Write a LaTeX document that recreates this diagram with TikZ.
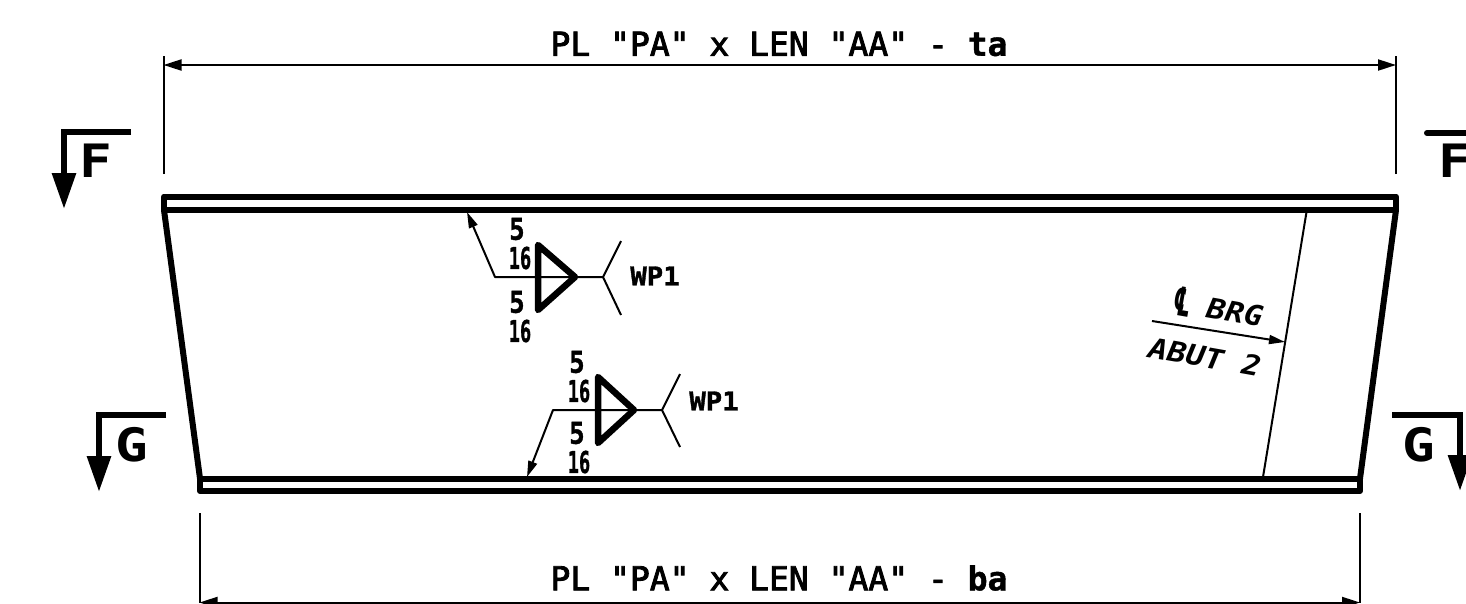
\documentclass[tikz,border=0pt]{standalone}
\usepackage{fontspec}
\setmainfont[Ligatures=TeXOff]{DejaVu Sans Mono}
\newfontfamily\dimfont[Ligatures=TeXOff,FakeBold=2.6]{DejaVu Sans Mono}
\newfontfamily\heavyfont[Ligatures=TeXOff,FakeBold=1.2,BoldFont={DejaVu Sans Mono Bold}]{DejaVu Sans Mono Bold}
\newfontfamily\symfont{DejaVu Sans Bold}
\usetikzlibrary{arrows.meta}
\tikzset{
  heavy/.style={line width=6pt,line join=round,line cap=round},
  thin line/.style={line width=2pt},
  section arrow/.style={line width=6pt,line join=miter,-{Triangle[length=36pt,width=23pt]}},
  leader/.style={line width=2pt,line join=round,-{Triangle[length=16pt,width=9pt]}},
  dimension/.style={line width=2pt,{Triangle[length=18pt,width=11pt]}-{Triangle[length=18pt,width=11pt]}},
  dimtext/.style={inner sep=0pt,font=\fontsize{33}{33}\dimfont},
  seclabel/.style={inner sep=0pt,xscale=1.18,font=\fontsize{46}{46}\selectfont\bfseries},
  fifive/.style={inner sep=0pt,xscale=.85,font=\fontsize{30}{30}\heavyfont},
  sixteen/.style={inner sep=0pt,xscale=.62,font=\fontsize{30}{30}\heavyfont},
  wp/.style={inner sep=0pt,xscale=1.05,font=\fontsize{26}{26}\heavyfont},
  brg/.style={inner sep=0pt,rotate=-10,xscale=1.12,font=\fontsize{28}{28}\selectfont\bfseries\itshape},
  clsym/.style={inner sep=0pt,rotate=-10,xscale=.62,yscale=1.25,font=\fontsize{32}{32}\symfont},
  weldtri/.style={line width=6.5pt,line join=round,line cap=round},
}
\begin{document}
\begin{tikzpicture}[x=1pt,y=-1pt]
\useasboundingbox (0,0) rectangle (1466,603);
\clip (0,0) rectangle (1466,603);
% corners
\coordinate (tl) at (164,196.5); \coordinate (tr) at (1396,196.5);
\coordinate (tl2) at (164,210); \coordinate (tr2) at (1396,210);
\coordinate (bl2) at (200,478.5); \coordinate (br2) at (1360,478.5);
\coordinate (bl) at (200,491); \coordinate (br) at (1360,491);
% girder
\draw[heavy] (tl2) -- (tl) -- (tr) -- (tr2) -- cycle;
\draw[heavy] (bl2) -- (bl) -- (br) -- (br2) -- cycle;
\draw[heavy] (tl2) -- (bl2);
\draw[heavy] (tr2) -- (br2);
% top dimension
\coordinate (dt1) at (163.5,65); \coordinate (dt2) at (1396,65);
\coordinate (et1) at (163.5,174); \coordinate (et2) at (1396,174);
\coordinate (et1t) at (163.5,56); \coordinate (et2t) at (1396,56);
\draw[thin line] (et1) -- (et1t);
\draw[thin line] (et2) -- (et2t);
\draw[dimension] (dt1) -- (dt2);
\node[dimtext] (toptext) at (779,44) {PL "PA" x LEN "AA" - {\heavyfont ta}};
% bottom dimension
\coordinate (db1) at (199.5,602.5); \coordinate (db2) at (1360,602.5);
\coordinate (eb1) at (199.5,513); \coordinate (eb2) at (1360,513);
\draw[thin line] (eb1) -- (db1);
\draw[thin line] (eb2) -- (db2);
\draw[dimension] (db1) -- (db2);
\node[dimtext] (bottext) at (779,578) {PL "PA" x LEN "AA" - {\heavyfont ba}};
% section marks
\coordinate (fa) at (131,132); \coordinate (fb) at (64,132); \coordinate (fc) at (64,209);
\draw[section arrow] (fa) -- (fb) -- (fc);
\node[seclabel] (fl) at (96,161) {F};
\coordinate (ga) at (166,415); \coordinate (gb) at (99,415); \coordinate (gc) at (99,492);
\draw[section arrow] (ga) -- (gb) -- (gc);
\node[seclabel] (gl) at (132,445) {G};
\coordinate (fra) at (1427,133); \coordinate (frb) at (1470,133);
\draw[line width=6pt,line cap=round] (fra) -- (frb);
\node[seclabel] (fr) at (1455,161) {F};
\coordinate (gra) at (1392,415); \coordinate (grb) at (1460,415); \coordinate (grc) at (1460,491);
\draw[section arrow] (gra) -- (grb) -- (grc);
\node[seclabel] (gr) at (1419,445) {G};
% bearing line
\coordinate (b1) at (1306.5,212); \coordinate (b2) at (1263,477); \coordinate (bm) at (1285,342);
\coordinate (lead) at (1152,321);
\draw[thin line] (b1) -- (b2);
\draw[leader] (lead) -- (bm);
\node[clsym] (clt) at (1183,302) {\char"2104};
\node[brg] (brgt) at (1235,312) {BRG};
\node[brg] (abut) at (1205,357) {ABUT 2};
% weld 1
\coordinate (w1tip) at (467,212); \coordinate (w1k) at (495,277); \coordinate (w1y) at (603,277);
\coordinate (w1a) at (538,245); \coordinate (w1b) at (575,277); \coordinate (w1c) at (538,310);
\coordinate (w1u) at (621,241); \coordinate (w1d) at (621,315);
\draw[leader] (w1y) -- (w1k) -- (w1tip);
\draw[thin line] (w1u) -- (w1y) -- (w1d);
\draw[weldtri] (w1a) -- (w1b) -- (w1c) -- cycle;
\node[fifive] (w1n1) at (517,229) {5};
\node[sixteen] (w1n2) at (520,258) {16};
\node[fifive] (w1n3) at (517,302) {5};
\node[sixteen] (w1n4) at (520,331) {16};
\node[wp] (w1t) at (655,276) {WP1};
% weld 2
\coordinate (w2tip) at (527,477); \coordinate (w2k) at (553,410); \coordinate (w2y) at (662,410);
\coordinate (w2a) at (598,377); \coordinate (w2b) at (634,410); \coordinate (w2c) at (598,443);
\coordinate (w2u) at (680,374); \coordinate (w2d) at (680,447);
\draw[leader] (w2y) -- (w2k) -- (w2tip);
\draw[thin line] (w2u) -- (w2y) -- (w2d);
\draw[weldtri] (w2a) -- (w2b) -- (w2c) -- cycle;
\node[fifive] (w2n1) at (577,362) {5};
\node[sixteen] (w2n2) at (579,391) {16};
\node[fifive] (w2n3) at (577,433) {5};
\node[sixteen] (w2n4) at (579,462) {16};
\node[wp] (w2t) at (714,401) {WP1};
\end{tikzpicture}
\end{document}
